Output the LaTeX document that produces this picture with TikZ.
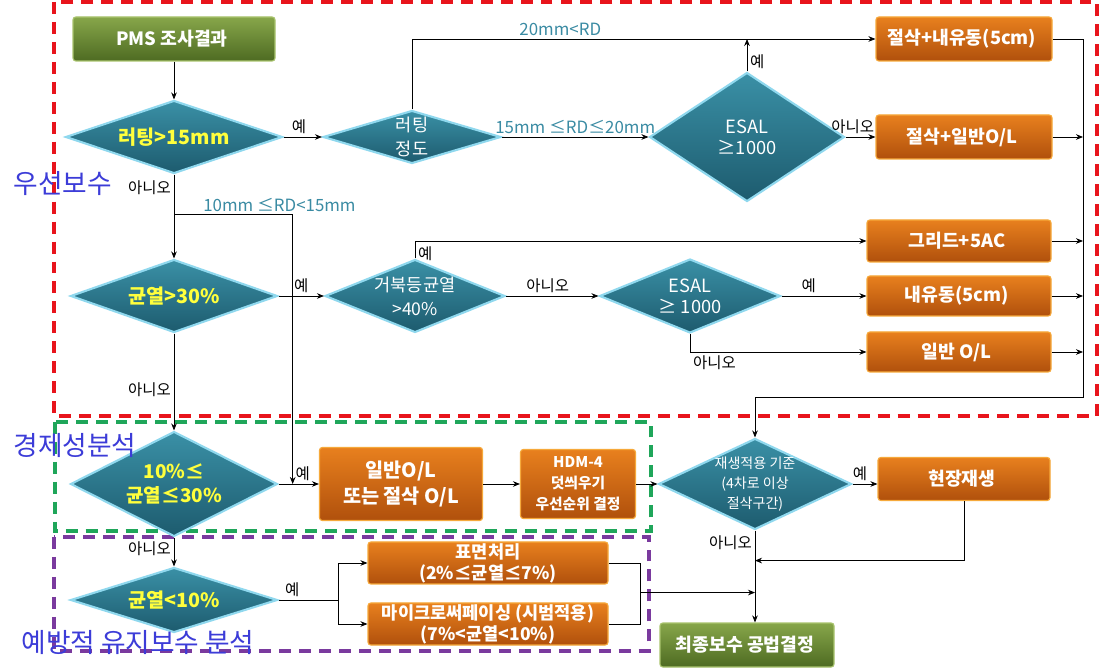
\documentclass[tikz,border=0pt]{standalone}
\usepackage{fontspec}
\setmainfont{Noto Sans CJK KR}
\usetikzlibrary{positioning,shapes.geometric,arrows.meta,calc}
\definecolor{boxtop}{HTML}{E8801E}
\definecolor{boxbot}{HTML}{B0500C}
\definecolor{boxedge}{HTML}{F6A93B}
\definecolor{gtop}{HTML}{87A64A}
\definecolor{gbot}{HTML}{4E6B22}
\definecolor{gedge}{HTML}{A9C46E}
\definecolor{diatop}{HTML}{3A90A6}
\definecolor{diabot}{HTML}{1D5B6E}
\definecolor{diaedge}{HTML}{8FD8EE}
\definecolor{condyellow}{HTML}{FFFF3C}
\definecolor{tealtext}{HTML}{3A8BA3}
\definecolor{redframe}{HTML}{E8141C}
\definecolor{greenframe}{HTML}{1FA65A}
\definecolor{purpleframe}{HTML}{7A3A9E}
\definecolor{titleblue}{HTML}{3C3CD8}

\begin{document}
\begin{tikzpicture}[node distance = 1cm, on grid,
	obox/.style = { rectangle, draw=boxedge, line width=0.8pt, rounded corners=2pt,
	top color=boxtop, bottom color=boxbot, text=white, inner sep=0pt, align=center,
	font=\fontsize{13}{15}\selectfont\bfseries },
	gbox/.style = { obox, draw=gedge, top color=gtop, bottom color=gbot },
	dia/.style = { diamond, draw=diaedge, line width=1.5pt,
	top color=diatop, bottom color=diabot, inner sep=0pt },
	ytext/.style = { text=condyellow, align=center, font=\fontsize{14}{17}\selectfont\bfseries },
	wtext/.style = { text=white, align=center, font=\fontsize{13}{16}\selectfont },
	lbl/.style = { font=\fontsize{11}{13}\selectfont, inner sep=2pt },
	rd/.style = { text=tealtext, font=\fontsize{12}{14}\selectfont, inner sep=2pt },
	arr/.style = { -{Stealth[length=5pt, width=4pt]}, line width=0.6pt },
	area/.style = { line width=2.4pt, dash pattern=on 8.5pt off 5.7pt },
	sect/.style = { text=titleblue, font=\fontsize{19}{21}\selectfont } ]

  \path [use as bounding box, fill=white] (0,0) rectangle (27.5,-16.725);

  \draw [area, draw=redframe] (1.35,-0.05) rectangle (27.425,-10.4);
  \draw [area, draw=greenframe] (1.375,-10.55) rectangle (16.275,-13.275);
  \draw [area, draw=purpleframe] (1.35,-13.425) rectangle (16.225,-16.275);

  \node [name=pms, gbox, minimum width=5.05cm, minimum height=1.1cm]
	at (4.35,-0.975) { PMS 조사결과 };
  \node [name=rut, dia, minimum width=5.425cm, minimum height=1.825cm,
	below=2.45cm of pms, label={[ytext]center:러팅>15mm}] {};
  \node [name=crackA, dia, minimum width=5.175cm, minimum height=1.825cm,
	below=3.975cm of rut, label={[ytext]center:균열>30\%}] {};
  \node [name=crackB, dia, minimum width=5.175cm, minimum height=2.625cm,
	below=4.7cm of crackA, label={[ytext, font=\fontsize{13.5}{17}\selectfont\bfseries]center:10\%≤\\균열≤30\%}] {};
  \node [name=crackC, dia, minimum width=5.175cm, minimum height=1.625cm,
	below=2.9cm of crackB, label={[ytext]center:균열<10\%}] {};

  \node [name=rutdeg, dia, minimum width=4.45cm, minimum height=1.325cm,
	right=5.95cm of rut, label={[wtext, font=\fontsize{12.5}{17}\selectfont]center:러팅\\정도}] {};
  \node [name=esalA, dia, minimum width=4.875cm, minimum height=3.225cm,
	right=8.375cm of rutdeg, label={[wtext, font=\fontsize{13}{15}\selectfont]center:ESAL\\≥1000}] {};
  \node [name=millol, obox, minimum width=4.4cm, minimum height=1.1cm,
	right=5.425cm of esalA] { 절삭+일반O/L };
  \node [name=mill5, obox, minimum width=4.4cm, minimum height=1.1cm,
	above=2.45cm of millol] { 절삭+내유동(5cm) };

  \node [name=alli, dia, minimum width=4.5cm, minimum height=1.825cm,
	right=6.025cm of crackA, label={[wtext, font=\fontsize{12.5}{17}\selectfont]center:거북등균열\\>40\%}] {};
  \node [name=esalB, dia, minimum width=4.525cm, minimum height=1.85cm,
	right=6.875cm of alli, label={[wtext, font=\fontsize{13}{15}\selectfont]center:ESAL\\≥ 1000}] {};
  \node [name=inlay, obox, minimum width=4.6cm, minimum height=1cm,
	right=6.725cm of esalB] { 내유동(5cm) };
  \node [name=grid, obox, minimum width=4.6cm, minimum height=1.05cm,
	above=1.375cm of inlay] { 그리드+5AC };
  \node [name=gol, obox, minimum width=4.6cm, minimum height=1cm,
	below=1.4cm of inlay] { 일반 O/L };

  \node [name=olay, obox, minimum width=4.075cm, minimum height=1.825cm,
	right=5.675cm of crackB, font=\fontsize{14}{18}\selectfont\bfseries]
	{ 일반O/L\\또는 절삭 O/L };
  \node [name=hdm, obox, minimum width=2.875cm, minimum height=1.725cm,
	right=4.425cm of olay, font=\fontsize{10.5}{15}\selectfont\bfseries]
	{ HDM-4\\덧씌우기\\우선순위 결정 };
  \node [name=recyc, dia, minimum width=4.825cm, minimum height=2.275cm,
	right=4.425cm of hdm, label={[wtext, font=\fontsize{10}{14}\selectfont]center:재생적용 기준\\(4차로 이상\\절삭구간)}] {};
  \node [name=onsite, obox, minimum width=4.3cm, minimum height=1.075cm,
	above right=0.125cm and 5.225cm of recyc] { 현장재생 };
  \node [name=final, gbox, minimum width=4.35cm, minimum height=1.1cm,
	below left=4.025cm and 0.2cm of recyc] { 최종보수 공법결정 };

  \node [name=surf, obox, minimum width=6cm, minimum height=1.05cm,
	above right=0.925cm and 7.85cm of crackC, font=\fontsize{12.5}{15}\selectfont\bfseries]
	{ 표면처리\\(2\%≤균열≤7\%) };
  \node [name=micro, obox, minimum width=6cm, minimum height=1.05cm,
	below=1.525cm of surf, font=\fontsize{12.5}{15}\selectfont\bfseries]
	{ 마이크로써페이싱 (시범적용)\\(7\%<균열<10\%) };

  \coordinate (bus) at (27.075,-9.925);
  \coordinate (split) at ([yshift=-1cm]rut.south);
  \coordinate (back) at ([yshift=-0.75cm]recyc.south);
  \coordinate (merge) at ([yshift=-1.55cm]recyc.south);
  \coordinate (fork) at ([xshift=1.5cm]crackC.east);

  \draw [arr] (pms) -- (rut);
  \draw [arr] (rut) -- node [name=y1, lbl, above, pos=0.4] {예} (rutdeg);
  \draw [arr] (rutdeg.north) |- node [name=r1, rd, above, pos=0.66] {20mm<RD} (mill5.west);
  \draw [arr] (rutdeg) -- node [name=r2, rd, above] {15mm ≤RD≤20mm} (esalA);
  \draw [arr] (esalA.north) -- node [name=y2, lbl, right, pos=0.3] {예} (esalA.north |- mill5.west);
  \draw [arr] (esalA) -- node [name=n1, lbl, above, pos=0.24] {아니오} (millol);
  \draw [arr] (mill5.east) -| (bus) -| (recyc.north);
  \foreach \x in {millol,grid,inlay,gol}
	\draw [arr] (\x.east) -- (\x.east -| bus);

  \draw [arr] (rut) -- node [name=n2, lbl, left, pos=0.16] {아니오} (crackA);
  \draw [arr] (split) -| node [name=r3, rd, above right, pos=0.11] {10mm ≤RD<15mm}
	($(crackB.east)!0.35!(olay.west)$);
  \draw [arr] (crackA) -- node [name=y3, lbl, above] {예} (alli);
  \draw [arr] (alli.north) |- node [name=y4, lbl, right, pos=0.15] {예} (grid.west);
  \draw [arr] (alli) -- node [name=n3, lbl, above, pos=0.45] {아니오} (esalB);
  \draw [arr] (esalB) -- node [name=y5, lbl, above, pos=0.32] {예} (inlay);
  \draw [arr] (esalB.south) |- node [name=n4, lbl, below right, pos=0.5] {아니오} (gol.west);

  \draw [arr] (crackA) -- node [name=n5, lbl, left, pos=0.575] {아니오} (crackB);
  \draw [arr] (crackB) -- node [name=y6, lbl, above, pos=0.6] {예} (olay);
  \draw [arr] (crackB) -- node [name=n6, lbl, left, pos=0.4] {아니오} (crackC);
  \draw [arr] (olay) -- (hdm);
  \draw [arr] (hdm) -- (recyc);
  \draw [arr] (recyc.east) -- node [name=y7, lbl, above, pos=0.3] {예} (recyc.east -| onsite.west);
  \draw [arr] (recyc.south) -- node [name=n7, lbl, left, pos=0.13] {아니오} (recyc.south |- final.north);
  \draw [arr] (onsite.south) |- (back);

  \draw (crackC.east) -- node [name=y8, lbl, above, pos=0.23] {예} (fork);
  \draw [arr] (fork) |- (surf.west);
  \draw [arr] (fork) |- (micro.west);
  \draw (surf.east) -- ++(0.8cm,0) |- (micro.east);
  \draw [arr] ([xshift=0.8cm]surf.east |- merge) -- (merge);

  \node [name=t1, sect] at (1.575,-4.6) { 우선보수 };
  \node [name=t2, sect] at (1.875,-11.125) { 경제성분석 };
  \node [name=t3, sect] at (3.45,-16.05) { 예방적 유지보수 분석 };
\end{tikzpicture}
\end{document}
